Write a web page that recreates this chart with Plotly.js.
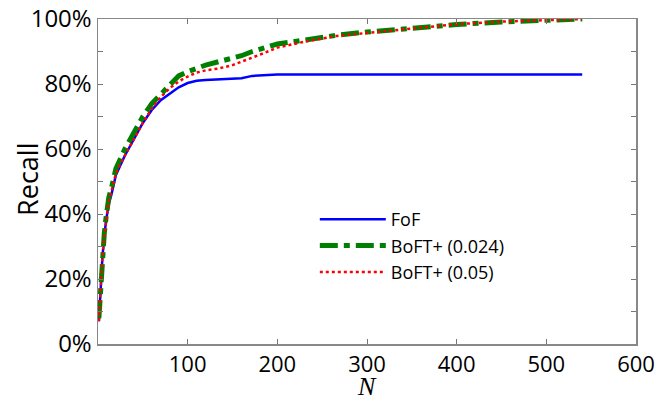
<!DOCTYPE html>
<html>
<head>
<meta charset="utf-8">
<script src="https://cdn.plot.ly/plotly-3.0.1.min.js"></script>
<style>html,body{margin:0;padding:0;background:#fff;}#chart{width:671px;height:403px;}</style>
</head>
<body>
<div id="chart"></div>
<script>
const N = [1,2,3,5,7,9,12,15,20,25,30,40,50,60,70,80,90,100,110,120,135,150,160,172,185,200,230,266,300,350,400,450,500,540];
const fof = [7,12,18,27,33,38,43,46,52,55,58,63,68,72,75,77,79,80.3,81,81.2,81.4,81.6,81.8,82.5,82.6,82.9,82.9,82.9,82.9,82.9,82.9,82.9,82.9,82.9];
const boft024 = [8,13,19,28,34,39,45,48,54,57,60,65,70,74,77,80,82.5,83.8,85,85.8,86.9,87.8,88.7,90,91,92.3,93.5,95,96,97.2,98.3,99.1,99.6,100];
const boft05 = [7,12,18,27,33,38,44,47,52.5,55.5,58,63,68,72.5,76,78.7,80.8,82.3,83.5,84.2,84.8,85.8,86.8,88,89.5,91.2,93,94.8,95.7,97,98.4,99.2,99.6,100];
const seriesNames = ["FoF", "BoFT+ (0.024)", "BoFT+ (0.05)"];
const xTicks = [100,200,300,400,500,600];
const yTicks = [0,20,40,60,80,100];
const yTickText = ["0%","20%","40%","60%","80%","100%"];
const xTitle = "N";
const yTitle = "Recall";

const traces = [
  {x:N, y:fof, name:seriesNames[0], mode:'lines', line:{color:'#0000ff', width:2.5}},
  {x:N, y:boft024, name:seriesNames[1], mode:'lines', line:{color:'#008000', width:5, dash:'18px,6px,6px,6px'}},
  {x:N, y:boft05, name:seriesNames[2], mode:'lines', line:{color:'#ff0000', width:2.5, dash:'3px,3px'}}
];

const layout = {
  width:671, height:403,
  margin:{l:98, r:35, t:19, b:59},
  paper_bgcolor:'#fff', plot_bgcolor:'#fff',
  font:{family:'"Open Sans", sans-serif', color:'#000'},
  showlegend:true,
  legend:{x:0.403, y:0.44, xanchor:'left', yanchor:'top', bgcolor:'rgba(0,0,0,0)', font:{size:18}, itemwidth:66},
  xaxis:{range:[0,600], tickvals:xTicks, ticks:'inside', ticklen:5, tickcolor:'#777', showline:true, linecolor:'#888', linewidth:1.5, mirror:'ticks', showgrid:false, zeroline:false, tickfont:{size:22}},
  yaxis:{range:[0,100], tickvals:yTicks, ticktext:yTickText, ticks:'inside', ticklen:5, tickcolor:'#777', showline:true, linecolor:'#888', linewidth:1.5, mirror:'ticks', showgrid:false, zeroline:false, tickfont:{size:24},
    minor:{dtick:10, ticks:'inside', ticklen:5, tickcolor:'#777', showgrid:false}},
  annotations:[
    {text:xTitle, xref:'paper', yref:'paper', x:0.5, y:-0.1815, xanchor:'center', yanchor:'bottom', showarrow:false,
      font:{family:'"Liberation Serif", serif', size:26, style:'italic', color:'#000'}},
    {text:yTitle, xref:'paper', yref:'paper', x:-0.13, y:0.505, xanchor:'center', yanchor:'middle', textangle:-90, showarrow:false,
      font:{size:27, color:'#000'}}
  ]
};
Plotly.newPlot('chart', traces, layout, {displayModeBar:false, staticPlot:true});
</script>
</body>
</html>
